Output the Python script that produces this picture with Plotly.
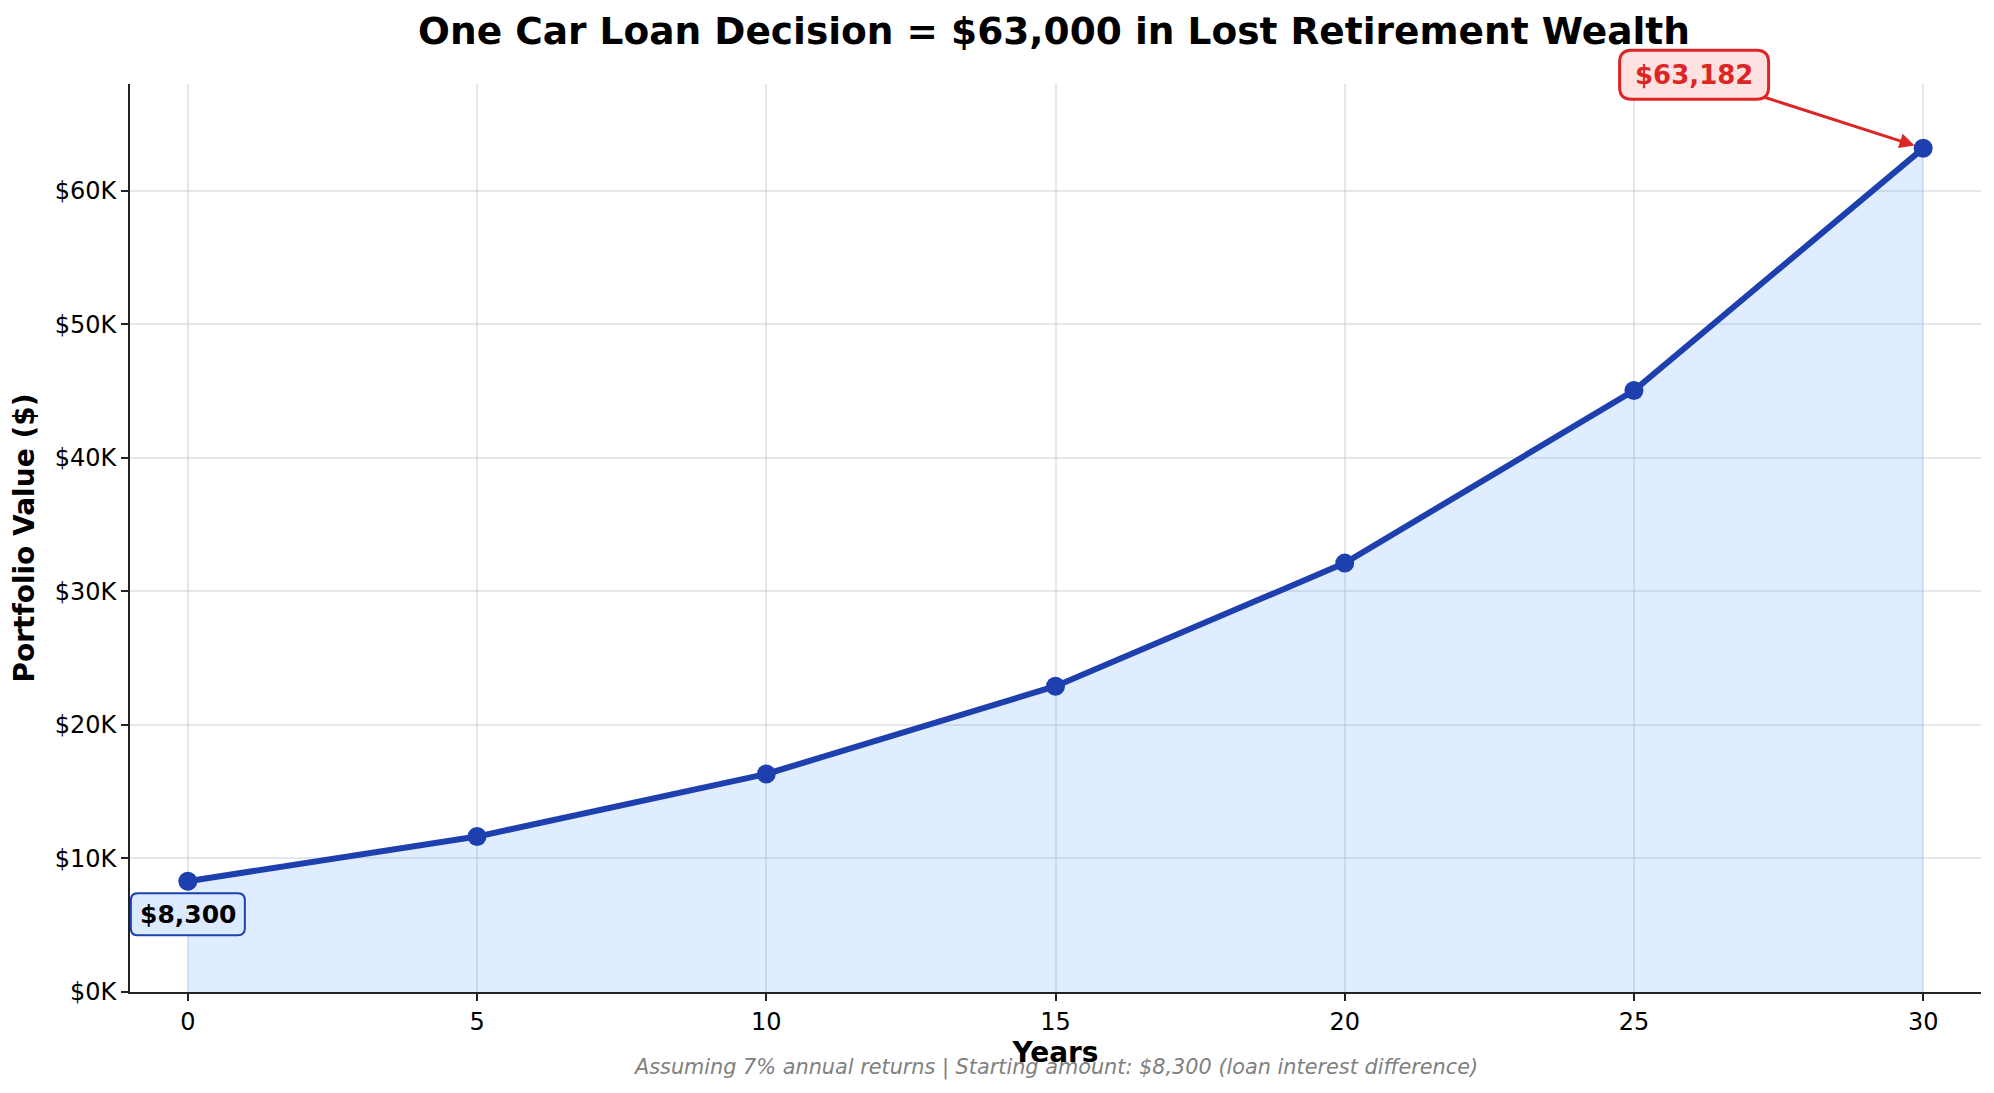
import plotly.graph_objects as go

# portfolio growth
years = [0, 5, 10, 15, 20, 25, 30]
values = [8300, 11641, 16327, 22900, 32119, 45049, 63182]
y_ticks = [0, 10000, 20000, 30000, 40000, 50000, 60000]
y_tick_labels = ["$0K", "$10K", "$20K", "$30K", "$40K", "$50K", "$60K"]
x_ticks = [0, 5, 10, 15, 20, 25, 30]

LINE_BLUE = "#1e40af"
RED = "#dc2626"
FONT = "DejaVu Sans"
Y_MAX = 68000


def rounded_box(w, h, r):
    # rounded rectangle path in pixels, centred on its anchor
    x0, x1, y0, y1 = -w / 2, w / 2, -h / 2, h / 2
    return (f"M {x0 + r},{y0} L {x1 - r},{y0} Q {x1},{y0} {x1},{y0 + r} "
            f"L {x1},{y1 - r} Q {x1},{y1} {x1 - r},{y1} L {x0 + r},{y1} "
            f"Q {x0},{y1} {x0},{y1 - r} L {x0},{y0 + r} Q {x0},{y0} {x0 + r},{y0} Z")


fig = go.Figure()
fig.add_trace(go.Scatter(
    x=years, y=values,
    mode="lines+markers",
    line=dict(color=LINE_BLUE, width=6),
    marker=dict(color=LINE_BLUE, size=19),
    fill="tozeroy",
    fillcolor="rgba(96,165,250,0.2)",
    showlegend=False,
))

# end value callout
end_x, end_y = 26.04, 68700
fig.add_shape(
    type="path", xref="x", yref="paper",
    xsizemode="pixel", ysizemode="pixel",
    xanchor=end_x, yanchor=end_y / Y_MAX,
    path=rounded_box(149, 49, 12),
    fillcolor="#fee2e2", line=dict(color=RED, width=3), layer="above",
)
fig.add_annotation(
    x=years[-1], y=values[-1],
    ax=end_x, ay=end_y, axref="x", ayref="y",
    text="<b>$%s</b>" % format(values[-1], ","),
    font=dict(family=FONT, size=26, color=RED),
    borderpad=10,
    showarrow=True, arrowcolor=RED, arrowwidth=3, arrowhead=2, arrowsize=1,
    standoff=9,
)
# start value label
start_y = 5820
fig.add_shape(
    type="path", xref="x", yref="y",
    xsizemode="pixel", ysizemode="pixel",
    xanchor=years[0], yanchor=start_y,
    path=rounded_box(114, 42, 7),
    fillcolor="#dbeafe", line=dict(color=LINE_BLUE, width=2), layer="above",
)
fig.add_annotation(
    x=years[0], y=start_y,
    text="<b>$%s</b>" % format(values[0], ","),
    font=dict(family=FONT, size=25, color="black"),
    showarrow=False,
)
# footnote
fig.add_annotation(
    x=0.5, y=-0.083, xref="paper", yref="paper",
    text="<i>Assuming 7% annual returns | Starting amount: $8,300 (loan interest difference)</i>",
    font=dict(family=FONT, size=20.8, color="gray"),
    showarrow=False, yanchor="middle",
)

fig.update_layout(
    width=1986, height=1085,
    margin=dict(l=122, r=13, t=76, b=101),
    plot_bgcolor="white", paper_bgcolor="white",
    font=dict(family=FONT, size=24, color="black"),
    title=dict(text="<b>One Car Loan Decision = $63,000 in Lost Retirement Wealth</b>",
               x=0.5267, xanchor="center", y=0.979, yanchor="middle",
               font=dict(family=FONT, size=37.5, color="black")),
    xaxis=dict(
        title=dict(text="<b>Years</b>", font=dict(size=28), standoff=6),
        range=[-1, 31], tickvals=x_ticks,
        showline=True, linecolor="#222", linewidth=2,
        ticks="outside", ticklen=7, tickwidth=2, tickcolor="#222",
        showgrid=True, gridcolor="rgba(200,200,215,0.45)", gridwidth=1.5,
        zeroline=False, tickfont=dict(size=24),
    ),
    yaxis=dict(
        title=dict(text="<b>Portfolio Value ($)</b>", font=dict(size=28), standoff=12),
        range=[0, Y_MAX], tickvals=y_ticks, ticktext=y_tick_labels,
        showline=True, linecolor="#222", linewidth=2,
        ticks="outside", ticklen=7, tickwidth=2, tickcolor="#222",
        showgrid=True, gridcolor="rgba(200,200,215,0.45)", gridwidth=1.5,
        zeroline=False, tickfont=dict(size=24),
    ),
)

fig.write_html("out.html")
